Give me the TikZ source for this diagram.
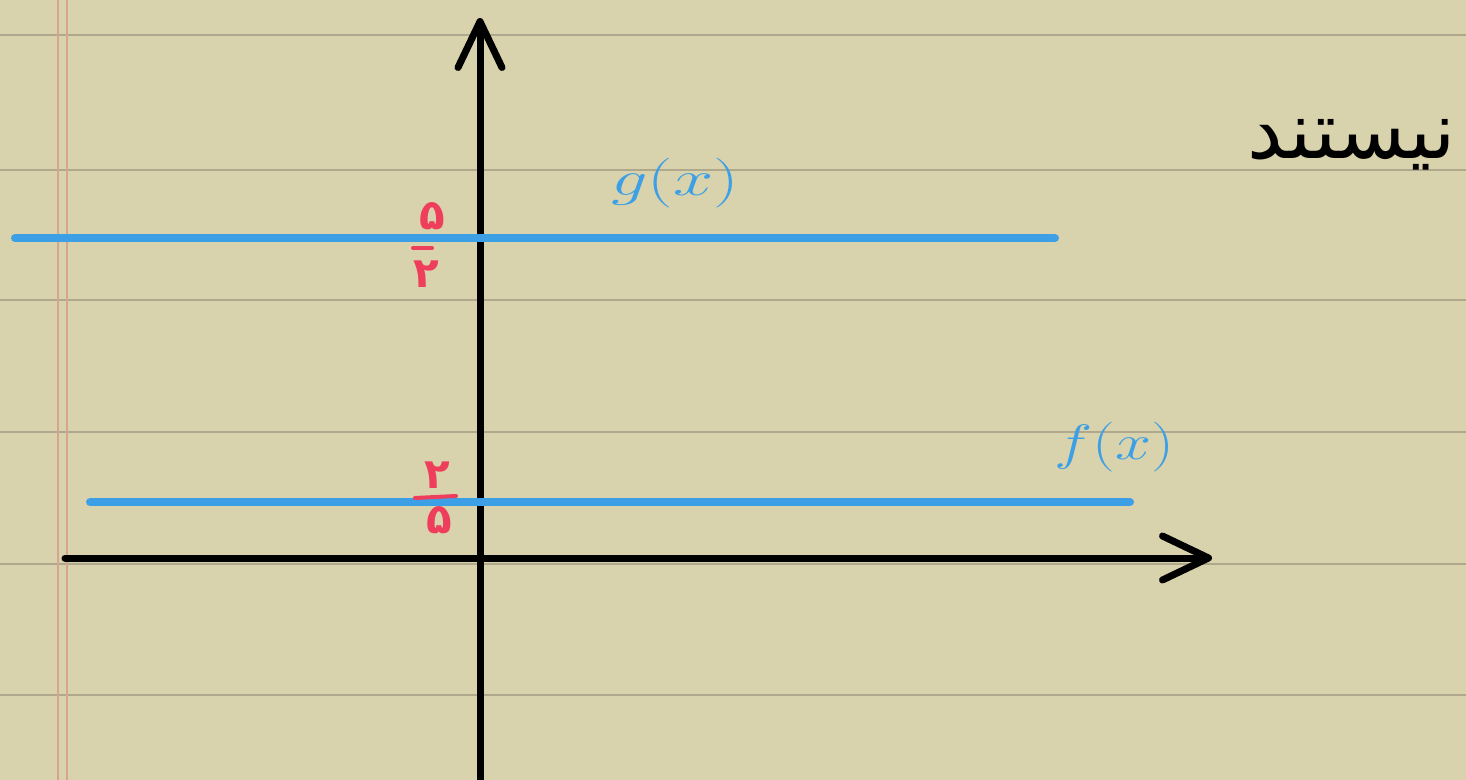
\documentclass[tikz,border=0pt]{standalone}
\usepackage{fontspec}
\usetikzlibrary{arrows.meta}
\TeXXeTstate=1
\newfontfamily\arabicfont[Script=Arabic]{DejaVu Sans}
\newfontfamily\persiandigits[Script=Arabic,Language=Persian]{DejaVu Sans}
\definecolor{paper}{HTML}{D8D3AC}
\definecolor{rulec}{HTML}{AFA88C}
\definecolor{marginc}{HTML}{D9A48E}
\definecolor{fnblue}{HTML}{3D9FE6}
\definecolor{numred}{HTML}{EE3E5C}
\begin{document}
\begin{tikzpicture}[x=0.5pt,y=-0.5pt,
  ruling/.style={draw=rulec,line width=1pt},
  marginline/.style={draw=marginc,line width=0.9pt},
  axis/.style={line width=3.5pt,line cap=round,-{Straight Barb[length=23pt,width=22pt,line cap=round,line join=round]}},
  graph/.style={draw=fnblue,line width=4pt,line cap=round},
  fnlabel/.style={text=fnblue,inner sep=0pt},
  digit/.style={text=numred,font=\persiandigits\fontsize{21}{21}\selectfont\bfseries,inner sep=0pt},
  fracbar/.style={draw=numred,line width=2pt,line cap=round}]
\fill[paper] (0,0) rectangle (1466,780);
\useasboundingbox (0,0) rectangle (1466,780);
\foreach \y in {35,170,300,432,564,695} \draw[ruling] (0,\y) -- (1466,\y);
\draw[marginline] (58,0) -- (58,780);
\draw[marginline] (67,0) -- (67,780);
% axes
\coordinate (ybot) at (480,780);
\coordinate (ytop) at (480,18);
\draw[axis] (ybot) -- (ytop);
\coordinate (xl) at (65,558);
\coordinate (xr) at (1212,558);
\draw[axis] (xl) -- (xr);
% first fraction bar (under the blue line)
\coordinate (b1l) at (413,248);
\coordinate (b1r) at (432,248);
\draw[fracbar] (b1l) -- (b1r);
% graphs
\coordinate (g0) at (15,238);
\coordinate (g1) at (1055,238);
\draw[graph] (g0) -- (g1);
\coordinate (f0) at (90,502);
\coordinate (f1) at (1130,502);
\draw[graph] (f0) -- (f1);
% labels
\node[fnlabel,font=\fontsize{34}{34}\selectfont] (glab) at (675,183) {\scalebox{1.45}[1]{$g(x)$}};
\node[fnlabel] (flab) at (1114,447) {\scalebox{1.3}[1]{\fontsize{40}{40}\selectfont$f$\fontsize{26}{26}\selectfont$(x)$}};
% fractions
\node[digit] (n1) at (432,216) {۵};
\node[digit] (d1) at (426,274) {۲};
\node[digit] (n2) at (437,475) {۲};
\node[digit] (d2) at (439,520) {۵};
\coordinate (b2l) at (415,498);
\coordinate (b2r) at (456,496);
\draw[fracbar] (b2l) -- (b2r);
% persian word
\node[font=\arabicfont\fontsize{40}{40}\selectfont,inner sep=0pt] (word) at (1352,145) {\beginR نیستند\endR};
\end{tikzpicture}
\end{document}
